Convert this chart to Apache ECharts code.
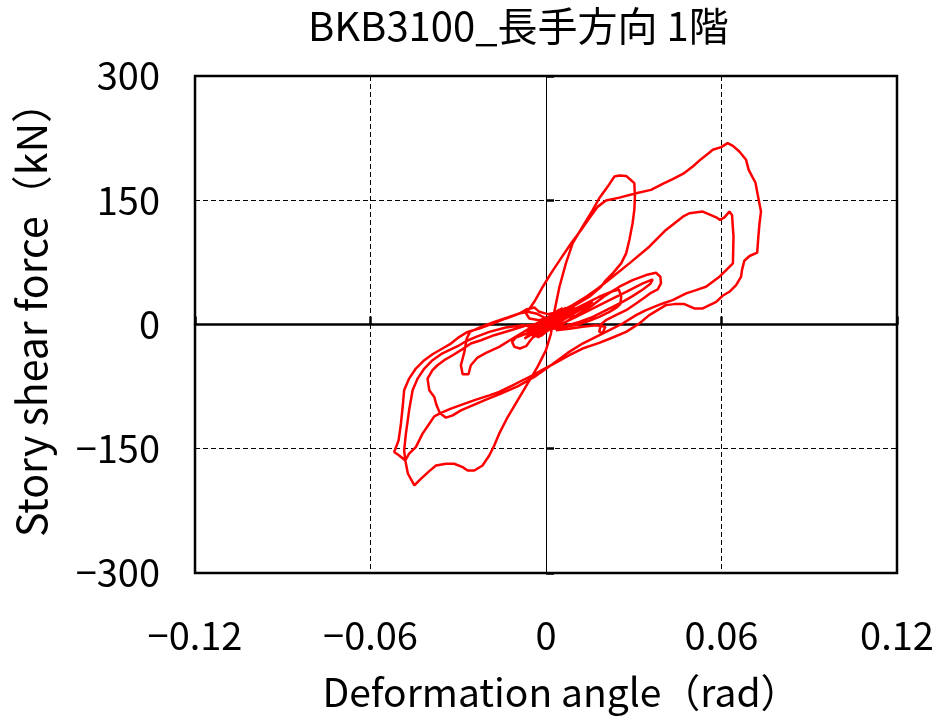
<!DOCTYPE html>
<html lang="ja">
<head>
    <meta charset="UTF-8">
    <title>BKB3100_長手方向 1階</title>
    <style>
        html, body { margin: 0; padding: 0; background: #fff; }
    </style>
</head>
<body>
<div id="chart_hys" style="width:943px;height:717px;"></div>

<script src="https://cdn.jsdelivr.net/npm/echarts/dist/echarts.min.js"></script>
<script type="text/javascript">

    // axis ticks
    var xTicks = [-0.12, -0.06, 0, 0.06, 0.12];
    var yTicks = [-300, -150, 0, 150, 300];

    // recorded trace, [deformation angle (rad), story shear force (kN)], in order
    var smallCycles = [
        [0, 0], [0.0034, 5.2], [0.0068, 10.1], [0.0040, 4.4], [0, -2.0], [-0.0034, -6.0],
        [-0.0057, -8.9], [-0.0029, -4.8], [0.0006, 1.2], [0.0051, 8.1], [0.0091, 14.1],
        [0.0114, 17.3], [0.0080, 10.9], [0.0034, 3.2], [-0.0006, -2.8], [-0.0046, -8.1],
        [-0.0080, -12.9], [-0.0103, -15.7], [-0.0116, -21.0], [-0.0108, -27.0], [-0.0089, -29.0],
        [-0.0068, -26.2], [-0.0051, -18.1], [-0.0023, -6.9], [0.0011, 2.0], [0.0068, 11.3],
        [0.0125, 21.4], [0.0160, 27.4], [0.0137, 21.4], [0.0091, 12.5], [0.0046, 5.2],
        [0, -2.8], [-0.0034, -6.9], [-0.0068, -11.7]
    ];
    var centreCycles = [
        [0.0046, 9], [-0.0040, -10], [0.0057, 13], [-0.0029, -5], [0.0068, 16], [-0.0051, -12],
        [0.0040, 12], [-0.0023, -9], [0.0080, 18], [-0.0046, -6], [0.0051, 16], [-0.0034, -12],
        [0.0063, 10], [-0.0057, -10], [0.0029, 14], [-0.0017, -14], [0.0074, 14], [-0.0040, -4],
        [0.0046, 18], [-0.0063, -14], [0.0034, 8], [-0.0029, -2], [0.0091, 20], [-0.0011, -8],
        [0.0057, 6], [-0.0046, -16], [0.0023, 10], [-0.0011, -4], [0.0017, 6], [-0.0068, -12],
        [0.0097, 12], [-0.0063, -4], [0.0080, 21], [-0.0046, -15], [0.0103, 16], [-0.0068, -8],
        [0.0057, 20], [-0.0034, -15], [0.0108, 19], [-0.0057, -3], [0.0074, 9], [-0.0029, -16],
        [0.0091, 15], [-0.0063, -6]
    ];
    var loopN1 = [
        [-0.0114, -16.9], [-0.0160, -27.0], [-0.0205, -34.3], [-0.0234, -39.9], [-0.0257, -49.2],
        [-0.0265, -60.1], [-0.0285, -60.1], [-0.0291, -49.2], [-0.0279, -33.1], [-0.0271, -16.9],
        [-0.0260, -8.9], [-0.0222, -2.8], [-0.0177, 3.2], [-0.0131, 8.5], [-0.0091, 13.3],
        [-0.0063, 15.3], [-0.0034, 13.3], [0, 7.3], [0.0046, 11.3]
    ];
    var loopQ = [
        [0.0091, 17.3], [0.0137, 25.4], [0.0182, 33.5], [0.0222, 39.5], [0.0249, 42.3],
        [0.0257, 33.5], [0.0254, 24.6], [0.0242, 20.6], [0.0217, 15.3], [0.0182, 9.3],
        [0.0148, 4.4], [0.0114, 0.4], [0.0068, -2.8], [0.0023, -4.8],
        [0.0068, 3.2], [0.0114, 13.3], [0.0160, 23.4], [0.0205, 35.5], [0.0251, 45.6],
        [0.0296, 53.6], [0.0342, 59.7], [0.0376, 62.5], [0.0391, 57.7], [0.0393, 49.6],
        [0.0382, 42.3], [0.0359, 38.3], [0.0336, 32.3], [0.0308, 25.4], [0.0274, 17.3],
        [0.0239, 11.3], [0.0205, 5.2], [0.0188, 0.4], [0.0182, -8.9], [0.0194, -10.1],
        [0.0203, -2.8], [0.0171, -0.8], [0.0125, -2.8], [0.0080, -5.2], [0.0034, -6.9],
        [0.0068, 3.2], [0.0137, 15.3], [0.0205, 27.4], [0.0274, 39.5], [0.0331, 49.6],
        [0.0365, 54.4], [0.0356, 48.8], [0.0331, 42.3], [0.0296, 34.3], [0.0262, 27.4],
        [0.0228, 21.4], [0.0194, 15.3], [0.0160, 9.3], [0.0114, 3.2], [0.0057, -2.8],
        [0, -6.9], [-0.0034, -2.8]
    ];
    var descent = [
        [-0.0080, -0.8], [-0.0137, -3.6], [-0.0194, -8.9], [-0.0239, -14.9], [-0.0274, -20.2],
        [-0.0302, -26.2], [-0.0331, -31.0], [-0.0359, -35.9], [-0.0388, -43.1], [-0.0416, -53.2],
        [-0.0439, -65.3], [-0.0456, -79.4], [-0.0468, -103.6], [-0.0479, -131.8], [-0.0485, -152.0],
        [-0.0481, -164.1], [-0.0472, -180.2], [-0.0450, -194.3]
    ];
    var troughToPeak = [
        [-0.0428, -186.3], [-0.0399, -177.0], [-0.0376, -170.2], [-0.0342, -168.1], [-0.0314, -168.1],
        [-0.0285, -172.2], [-0.0268, -176.2], [-0.0245, -176.2], [-0.0217, -170.2], [-0.0194, -158.1],
        [-0.0177, -146.0], [-0.0160, -131.8], [-0.0131, -111.7], [-0.0097, -91.5], [-0.0063, -71.4],
        [-0.0029, -51.2], [0, -31.0], [0.0017, -10.9], [0.0025, 9.3], [0.0046, 45.6],
        [0.0068, 73.8], [0.0091, 98.0], [0.0125, 118.1], [0.0160, 138.3], [0.0182, 152.4],
        [0.0211, 166.5], [0.0234, 178.6], [0.0251, 179.8], [0.0274, 179.4], [0.0287, 175.4],
        [0.0302, 170.6], [0.0304, 154.4], [0.0302, 138.3], [0.0296, 122.2], [0.0285, 102.0],
        [0.0274, 85.9], [0.0257, 73.8], [0.0228, 61.7], [0.0205, 53.6], [0.0188, 45.6],
        [0.0148, 33.5], [0.0091, 21.4], [0.0034, 11.3], [-0.0023, 5.2], [-0.0057, 7.3]
    ];
    var bigLoop = [
        [-0.0068, 13.3], [-0.0040, 27.4], [-0.0011, 45.6], [0.0017, 61.7], [0.0051, 79.8],
        [0.0086, 98.0], [0.0120, 114.1], [0.0148, 128.2], [0.0177, 142.3], [0.0205, 149.6],
        [0.0251, 153.2], [0.0308, 158.5], [0.0359, 162.5], [0.0399, 169.7], [0.0433, 175.4],
        [0.0468, 181.8], [0.0502, 190.7], [0.0530, 199.6], [0.0559, 207.6], [0.0570, 210.9],
        [0.0599, 214.1], [0.0621, 218.9], [0.0639, 215.7], [0.0661, 208.9], [0.0684, 198.8],
        [0.0693, 186.7], [0.0705, 178.6], [0.0716, 171.4], [0.0724, 156.4], [0.0735, 136.3],
        [0.0730, 122.2], [0.0726, 106.0], [0.0722, 86.7], [0.0696, 82.7], [0.0678, 77.0],
        [0.0670, 65.7], [0.0667, 57.7], [0.0650, 47.6], [0.0627, 39.5], [0.0604, 34.7],
        [0.0582, 27.4], [0.0559, 23.4], [0.0536, 19.4], [0.0507, 19.4], [0.0473, 24.6],
        [0.0439, 24.6], [0.0410, 23.4], [0.0353, 11.3], [0.0319, 1.2], [0.0274, -8.9],
        [0.0228, -15.7], [0.0182, -22.2], [0.0125, -29.0], [0.0080, -37.1], [0.0034, -46.0],
        [-0.0011, -54.4], [-0.0046, -61.3], [-0.0080, -67.3], [-0.0114, -73.4], [-0.0160, -81.4],
        [-0.0194, -85.5], [-0.0239, -90.7], [-0.0285, -96.4], [-0.0325, -101.6], [-0.0359, -106.8],
        [-0.0382, -110.9], [-0.0399, -119.8], [-0.0422, -131.8], [-0.0445, -148.0], [-0.0468, -156.0],
        [-0.0481, -164.1], [-0.0502, -158.1], [-0.0519, -154.0]
    ];
    var returnLoop = [
        [-0.0504, -139.9], [-0.0496, -119.8], [-0.0490, -99.6], [-0.0485, -79.4], [-0.0468, -65.3],
        [-0.0445, -53.2], [-0.0416, -43.1], [-0.0388, -35.9], [-0.0354, -29.0], [-0.0325, -23.0],
        [-0.0296, -14.9], [-0.0268, -8.9], [-0.0228, -4.8], [-0.0182, 1.2], [-0.0137, 7.3],
        [-0.0091, 13.3], [-0.0068, 18.1], [-0.0040, 20.6], [-0.0023, 15.3], [0.0006, 12.5],
        [0.0046, 15.3], [0.0091, 23.4], [0.0137, 33.5], [0.0177, 43.5], [0.0211, 52.8],
        [0.0245, 62.5], [0.0285, 73.8], [0.0353, 93.9], [0.0410, 114.1], [0.0468, 130.2],
        [0.0490, 134.3], [0.0536, 136.3], [0.0582, 129.4], [0.0595, 126.2], [0.0610, 129.4],
        [0.0627, 136.3], [0.0636, 132.2], [0.0641, 106.0], [0.0639, 73.8], [0.0616, 65.7],
        [0.0593, 57.7], [0.0570, 51.6], [0.0547, 45.6], [0.0513, 41.5], [0.0479, 37.5],
        [0.0433, 29.4], [0.0399, 25.4], [0.0342, 17.3], [0.0308, 11.3], [0.0262, 1.2],
        [0.0217, -6.9], [0.0171, -14.9], [0.0125, -23.0], [0.0074, -34.3], [0.0017, -49.2],
        [-0.0040, -63.3], [-0.0097, -74.6], [-0.0154, -83.5], [-0.0205, -90.7], [-0.0251, -97.6],
        [-0.0291, -103.6], [-0.0319, -109.7], [-0.0342, -112.5], [-0.0363, -106.8], [-0.0374, -97.6],
        [-0.0382, -87.5], [-0.0399, -79.4], [-0.0405, -65.3], [-0.0388, -55.2], [-0.0371, -49.2],
        [-0.0348, -43.1], [-0.0319, -37.1], [-0.0291, -31.0], [-0.0257, -23.0], [-0.0222, -19.0],
        [-0.0177, -12.9], [-0.0120, -6.9], [-0.0063, -0.8], [-0.0023, 0.4]
    ];
    var endCycles = [
        [0.0063, 14], [-0.0034, -8], [0.0085, 19], [-0.0057, -11], [0.0046, 15], [-0.0017, -10],
        [0.0074, 17], [-0.0068, -15], [0.0040, 6], [-0.0023, -13], [0.0097, 22], [-0.0040, -9],
        [0.0051, 12], [-0.0074, -17], [0.0029, 4], [-0.0006, -11], [0.0068, 20], [-0.0051, -5],
        [0.0023, 3.2], [-0.0011, -2.8], [-0.0034, -6.0], [0, 1.2], [0.0034, 5.2], [0, 0]
    ];

    var trace = [].concat(smallCycles, centreCycles, loopN1, loopQ, descent, troughToPeak,
        bigLoop, returnLoop, endCycles);

    var font = '"Noto Sans CJK JP", "Noto Sans", sans-serif';
    function minusSign(v) {
        return String(v).replace('-', '\u2212');
    }

    var myChart = echarts.init(document.getElementById('chart_hys'));

    var option = {
        animation: false,
        backgroundColor: '#fff',
        title: {
            text: 'BKB3100_長手方向 1階',
            left: 303,
            top: 1,
            textStyle: { fontFamily: font, fontSize: 40, fontWeight: 'normal', color: '#000' }
        },
        grid: {
            left: 195, right: 46, top: 76, bottom: 144,
            show: true, borderColor: '#000', borderWidth: 2.5
        },
        xAxis: [
            {
                type: 'value', min: xTicks[0], max: xTicks[xTicks.length - 1], interval: 0.06,
                position: 'bottom',
                name: 'Deformation angle（rad）', nameLocation: 'middle', nameGap: 100,
                nameTextStyle: { fontFamily: font, fontSize: 39, color: '#000', padding: [0, 0, 0, 30] },
                axisLine: { show: false, onZero: false },
                axisTick: { show: false },
                axisLabel: { fontFamily: font, fontSize: 38, color: '#000', margin: 44, formatter: minusSign },
                splitLine: { show: true, lineStyle: { color: '#000', width: 1, type: [5, 3] } }
            },
            {
                // zero line through y = 0 with its inner ticks
                type: 'value', min: xTicks[0], max: xTicks[xTicks.length - 1], interval: 0.06,
                position: 'bottom',
                axisLine: { show: true, onZero: true, lineStyle: { color: '#000', width: 2.5 } },
                axisTick: { show: true, inside: true, length: 8, lineStyle: { color: '#000', width: 2.5 } },
                axisLabel: { show: false },
                splitLine: { show: false }
            }
        ],
        yAxis: [
            {
                type: 'value', min: yTicks[0], max: yTicks[yTicks.length - 1], interval: 150,
                position: 'left',
                name: 'Story shear force（kN）', nameLocation: 'middle', nameGap: 143,
                nameTextStyle: { fontFamily: font, fontSize: 41, color: '#000', padding: [0, 0, 0, 30] },
                axisLine: { show: false, onZero: false },
                axisTick: { show: false },
                axisLabel: { fontFamily: font, fontSize: 38, color: '#000', margin: 35, formatter: minusSign },
                splitLine: { show: true, lineStyle: { color: '#000', width: 1, type: [5, 3] } }
            },
            {
                // zero line through x = 0 with its inner ticks
                type: 'value', min: yTicks[0], max: yTicks[yTicks.length - 1], interval: 150,
                position: 'left',
                axisLine: { show: true, onZero: true, lineStyle: { color: '#000', width: 1 } },
                axisTick: { show: true, inside: true, length: 8, lineStyle: { color: '#000', width: 2.5 } },
                axisLabel: { show: false },
                splitLine: { show: false }
            }
        ],
        series: [
            {
                name: 'BKB3100',
                type: 'line',
                xAxisIndex: 0,
                yAxisIndex: 0,
                data: trace,
                showSymbol: false,
                smooth: false,
                lineStyle: { color: '#ff0000', width: 2.5 },
                z: 3
            }
        ]
    };

    myChart.setOption(option);
</script>

</body>
</html>
